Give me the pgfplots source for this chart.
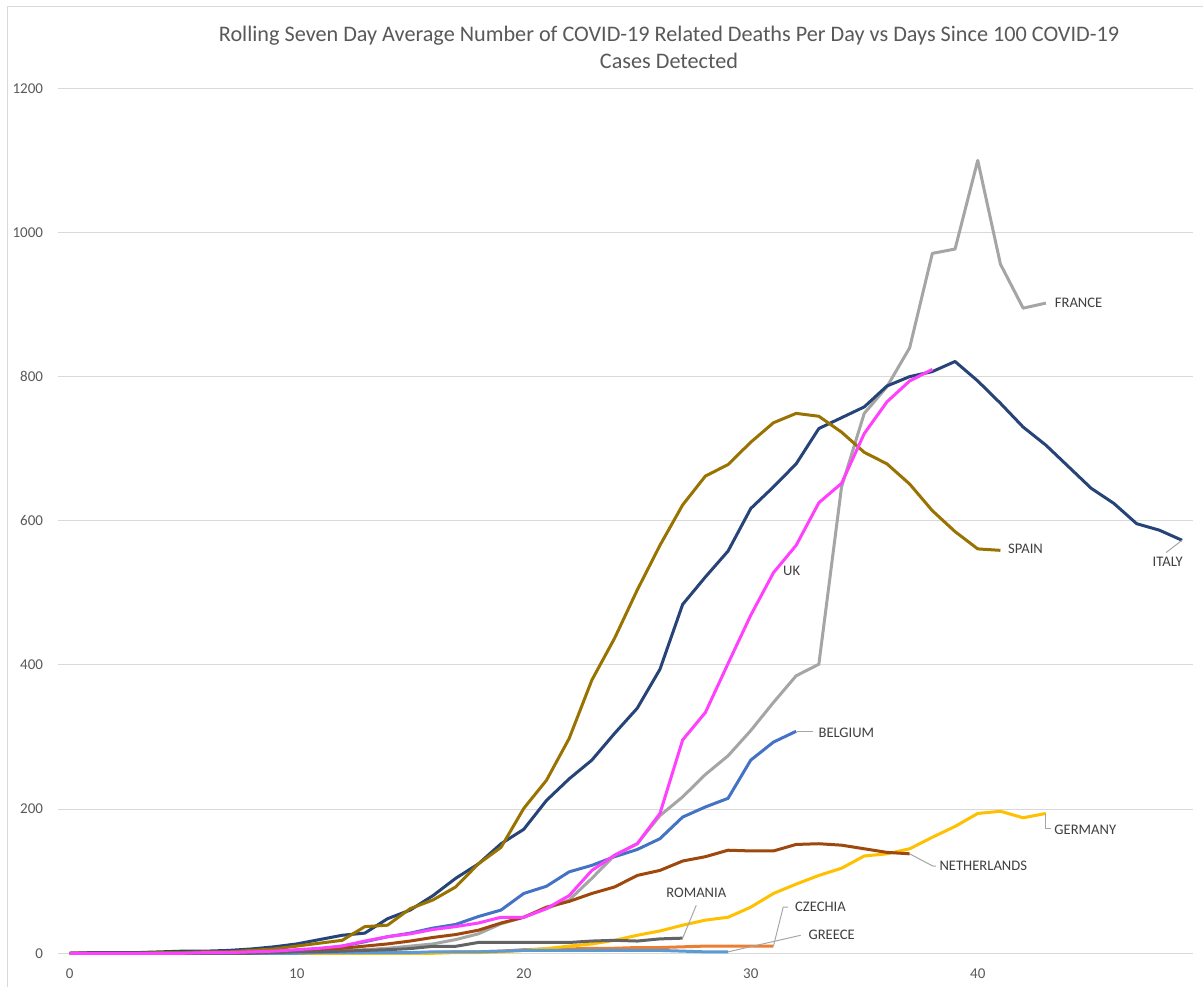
\documentclass[border=0pt]{standalone}
\usepackage{fontspec}
\setmainfont{Carlito}
\usepackage{pgfplots}
\pgfplotsset{compat=1.18}
\definecolor{cBel}{HTML}{4472C4}
\definecolor{cCze}{HTML}{ED7D31}
\definecolor{cFra}{HTML}{A5A5A5}
\definecolor{cGer}{HTML}{FFC000}
\definecolor{cGre}{HTML}{5B9BD5}
\definecolor{cIta}{HTML}{264478}
\definecolor{cNed}{HTML}{9E480E}
\definecolor{cRom}{HTML}{636363}
\definecolor{cSpa}{HTML}{997300}
\definecolor{cUK}{HTML}{FF40FF}
\definecolor{gridc}{HTML}{D9D9D9}
\definecolor{tickc}{HTML}{595959}
\definecolor{labc}{HTML}{404040}
\definecolor{leadc}{HTML}{A6A6A6}
\begin{document}
\begin{tikzpicture}
\useasboundingbox (0,0) rectangle (601.5bp,493.5bp);
\fill[white] (0,0) rectangle (601.5bp,493.5bp);
\draw[gridc, line width=0.5bp] (3.6bp,-5bp) -- (3.6bp,490bp) -- (610bp,490bp);
\node[text=tickc, font=\fontsize{11.1bp}{13.5bp}\selectfont, align=center, anchor=center, inner sep=0pt] at (334.5bp,470bp)
  {Rolling Seven Day Average Number of COVID-19 Related Deaths Per Day vs Days Since 100 COVID-19\\Cases Detected};
\begin{axis}[
  at={(29.2bp,16.85bp)}, anchor=south west, scale only axis,
  width=567.5bp, height=432.5bp,
  xmin=-0.5, xmax=49.5, ymin=0, ymax=1200,
  xtick={0,10,20,30,40}, ytick={0,200,400,600,800,1000,1200},
  ymajorgrids, grid style={gridc, line width=0.5bp},
  axis line style={draw=none}, major tick length=0pt,
  /pgf/number format/assume math mode=true,
  /pgf/number format/1000 sep={},
  tick label style={font=\fontsize{7.5bp}{8.5bp}\selectfont, text=tickc, inner sep=0pt},
  xticklabel style={anchor=north, yshift=-7.6bp},
  yticklabel style={anchor=east, xshift=-7.5bp},
  clip=false,
  every axis plot/.append style={line width=1.5bp, line join=round, mark=none},
]
% Belgium
\addplot[cBel] coordinates {(0,0)(1,0)(2,0)(3,0)(4,1)(5,1)(6,1)(7,1)(8,2)(9,3)(10,4)(11,6)(12,10)(13,16)(14,23)(15,28)(16,35)(17,40)(18,51)(19,60)(20,83)(21,93)(22,113)(23,122)(24,134)(25,144)(26,159)(27,189)(28,203)(29,215)(30,268)(31,293)(32,308)};
% Czechia
\addplot[cCze] coordinates {(0,0)(1,0)(2,0)(3,0)(4,0)(5,0)(6,0)(7,0)(8,0)(9,0)(10,0)(11,0)(12,0)(13,0)(14,1)(15,1)(16,1)(17,2)(18,2)(19,3)(20,5)(21,6)(22,6)(23,7)(24,7)(25,8)(26,8)(27,9)(28,10)(29,10)(30,10)(31,10)};
% France
\addplot[cFra] coordinates {(0,0)(1,0)(2,0)(3,0)(4,0)(5,0)(6,0)(7,1)(8,1)(9,1)(10,2)(11,3)(12,4)(13,5)(14,7)(15,10)(16,13)(17,19)(18,27)(19,41)(20,50)(21,62)(22,74)(23,104)(24,136)(25,152)(26,191)(27,217)(28,248)(29,274)(30,309)(31,348)(32,385)(33,401)(34,647)(35,749)(36,786)(37,840)(38,971)(39,977)(40,1100)(41,956)(42,895)(43,902)};
% Germany
\addplot[cGer] coordinates {(0,0)(1,0)(2,0)(3,0)(4,0)(5,0)(6,0)(7,0)(8,0)(9,0)(10,0)(11,0)(12,0)(13,0)(14,0)(15,0)(16,0)(17,1)(18,1)(19,2)(20,4)(21,6.5)(22,10)(23,13)(24,18)(25,25)(26,31)(27,39)(28,46)(29,50)(30,64)(31,83)(32,96)(33,108)(34,118)(35,135)(36,138)(37,145)(38,161)(39,176)(40,194)(41,197)(42,188)(43,194)};
% Greece
\addplot[cGre] coordinates {(0,0)(1,0)(2,0)(3,0)(4,0)(5,0)(6,0)(7,0)(8,0)(9,0)(10,0)(11,1)(12,1)(13,1)(14,1)(15,1)(16,2)(17,2)(18,2)(19,3)(20,4)(21,4)(22,4)(23,4)(24,4)(25,4)(26,4)(27,3)(28,2)(29,2)};
% Italy
\addplot[cIta] coordinates {(0,0)(1,1)(2,1)(3,1)(4,2)(5,3)(6,3)(7,4)(8,6)(9,9)(10,13)(11,19)(12,25)(13,28)(14,48)(15,60)(16,80)(17,104)(18,124)(19,152)(20,172)(21,212)(22,242)(23,268)(24,305)(25,340)(26,394)(27,484)(28,522)(29,558)(30,617)(31,647)(32,679)(33,728)(34,743)(35,758)(36,787)(37,800)(38,807)(39,821)(40,794)(41,763)(42,730)(43,705)(44,675)(45,645)(46,624)(47,596)(48,587)(49,573)};
% Netherlands
\addplot[cNed] coordinates {(0,0)(1,0)(2,0)(3,0)(4,0)(5,1)(6,1)(7,1)(8,2)(9,3)(10,4)(11,5)(12,7)(13,10)(14,13)(15,17)(16,22)(17,26)(18,32)(19,42)(20,50)(21,64)(22,72)(23,83)(24,92)(25,108)(26,115)(27,128)(28,134)(29,143)(30,142)(31,142)(32,151)(33,152)(34,150)(35,145)(36,140)(37,138)};
% Romania
\addplot[cRom] coordinates {(0,0)(1,0)(2,0)(3,0)(4,0)(5,0)(6,0)(7,0)(8,0)(9,1)(10,2)(11,2)(12,3)(13,4)(14,5)(15,6.5)(16,9.7)(17,9.7)(18,15)(19,15)(20,15)(21,15)(22,15)(23,17)(24,18)(25,17)(26,20)(27,21)};
% Spain
\addplot[cSpa] coordinates {(0,0)(1,0)(2,0)(3,0)(4,1)(5,1)(6,2)(7,2)(8,4)(9,6)(10,10)(11,14)(12,18)(13,37)(14,39)(15,62)(16,74)(17,92)(18,124)(19,147)(20,201)(21,240)(22,298)(23,379)(24,437)(25,504)(26,566)(27,622)(28,662)(29,678)(30,709)(31,736)(32,749)(33,745)(34,723)(35,695)(36,679)(37,651)(38,614)(39,585)(40,561)(41,559)};
% UK
\addplot[cUK] coordinates {(0,0)(1,0)(2,0)(3,0)(4,0)(5,0)(6,1)(7,1)(8,2)(9,3)(10,5)(11,7)(12,10)(13,17)(14,23)(15,27)(16,33)(17,37)(18,42)(19,50)(20,50)(21,62)(22,80)(23,115)(24,136)(25,152)(26,194)(27,296)(28,334)(29,402)(30,469)(31,528)(32,566)(33,625)(34,652)(35,721)(36,765)(37,794)(38,810)};
% leader lines
\draw[leadc, line width=0.5bp] (axis cs:49,573) -- (axis cs:48.3,556);
\draw[leadc, line width=0.5bp] (axis cs:32.05,308) -- (axis cs:32.75,308);
\draw[leadc, line width=0.5bp] (axis cs:43,193) -- (axis cs:43,173) -- (axis cs:43.23,173);
\draw[leadc, line width=0.5bp] (axis cs:37,138) -- (axis cs:38.02,121) -- (axis cs:38.15,121);
\draw[leadc, line width=0.5bp] (axis cs:27,21) -- (axis cs:27.6,66.6);
\draw[leadc, line width=0.5bp] (axis cs:31,10) -- (axis cs:31.43,64.2) -- (axis cs:31.65,64.2);
\draw[leadc, line width=0.5bp] (axis cs:29,2) -- (axis cs:32.2,25);
% labels
\tikzset{lab/.style={font=\fontsize{7.3bp}{8.5bp}\selectfont, text=labc, inner sep=0pt}}
\node[lab, anchor=west] at (axis cs:43.38,902) {FRANCE};
\node[lab, anchor=west] at (axis cs:41.32,560.5) {SPAIN};
\node[lab, anchor=center] at (axis cs:48.37,543) {ITALY};
\node[lab, anchor=center] at (axis cs:31.8,530) {UK};
\node[lab, anchor=west] at (axis cs:32.97,306) {BELGIUM};
\node[lab, anchor=west] at (axis cs:43.36,171.6) {GERMANY};
\node[lab, anchor=west] at (axis cs:38.3,120.7) {NETHERLANDS};
\node[lab, anchor=center] at (axis cs:27.6,83.7) {ROMANIA};
\node[lab, anchor=west] at (axis cs:31.94,64.2) {CZECHIA};
\node[lab, anchor=west] at (axis cs:32.53,25) {GREECE};
\end{axis}
\end{tikzpicture}
\end{document}
